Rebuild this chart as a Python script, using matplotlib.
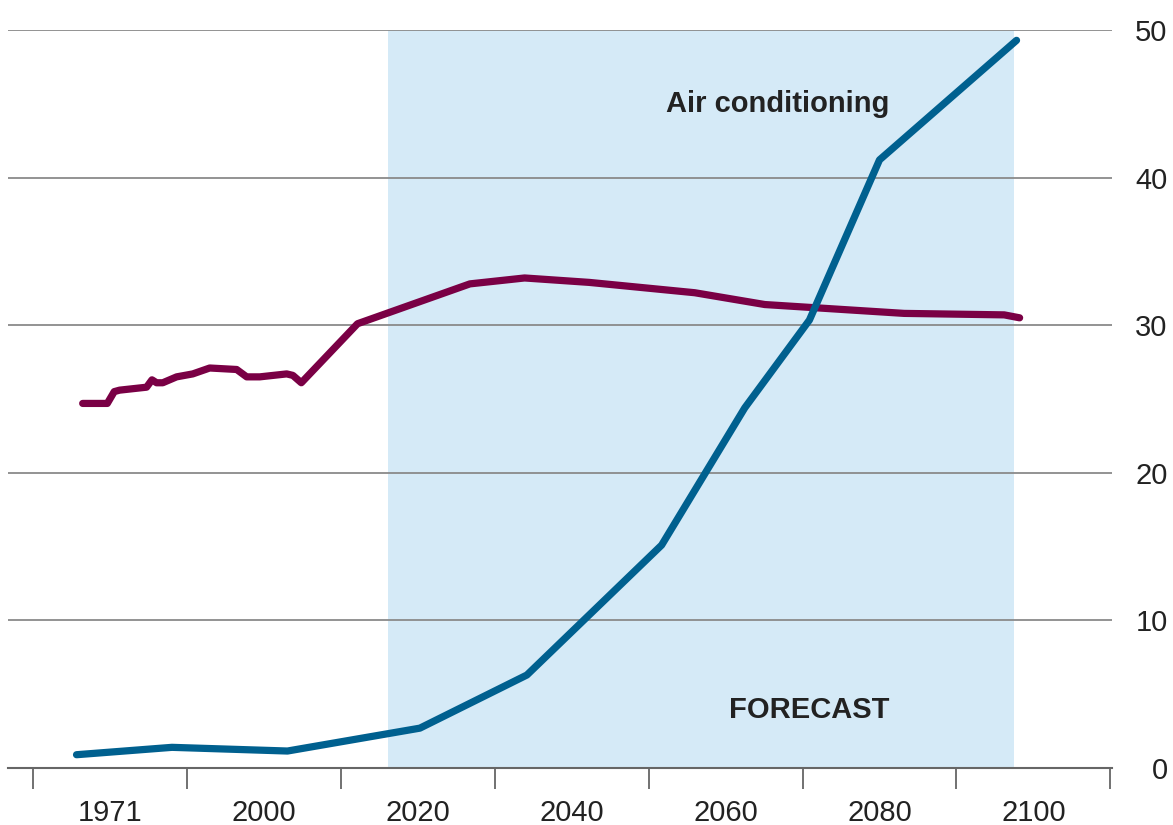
import matplotlib.pyplot as plt

# --- Data ---
heating_years = [1976.5, 1979.7, 1980.6, 1981.3, 1984.8, 1985.5, 1986.1, 1986.9,
                 1988.7, 1990.8, 1993.0, 1996.5, 1997.8, 1999.5, 2003.0, 2003.8,
                 2004.9, 2012.2, 2026.8, 2033.9, 2042.3, 2056.0, 2065.1, 2083.2,
                 2096.2, 2098.2]
heating_vals = [24.7, 24.7, 25.5, 25.6, 25.8, 26.3, 26.1, 26.1,
                26.5, 26.7, 27.1, 27.0, 26.5, 26.5, 26.7, 26.6,
                26.1, 30.1, 32.8, 33.2, 32.9, 32.2, 31.4, 30.8,
                30.7, 30.5]

ac_years = [1975.7, 1988.1, 2003.1, 2020.3, 2034.2, 2051.7, 2062.5, 2070.9, 2080.0, 2097.8]
ac_vals = [0.9, 1.4, 1.15, 2.7, 6.3, 15.1, 24.4, 30.35, 41.2, 49.3]

forecast_span = (2016.1, 2097.5)

tick_edges = [1970, 1990, 2010, 2030, 2050, 2070, 2090, 2110]
label_pos = [1980, 2000, 2020, 2040, 2060, 2080, 2100]
label_text = ["1971", "2000", "2020", "2040", "2060", "2080", "2100"]
y_ticks = [0, 10, 20, 30, 40, 50]

plt.rcParams['font.family'] = ['Liberation Sans', 'DejaVu Sans']

fig = plt.figure(figsize=(11.73, 8.25), dpi=100)
ax = fig.add_axes([8 / 1173, 1 - 768 / 825, (1112 - 8) / 1173, (768 - 30) / 825])

# forecast shading
ax.axvspan(forecast_span[0], forecast_span[1], ymin=0, ymax=1, color="#d5eaf7", lw=0, zorder=0)

# gridlines
for v in y_ticks[1:]:
    ax.axhline(v, color="#8a8a8a", lw=1.3, zorder=1)

ax.plot(heating_years, heating_vals, color="#7a0045", lw=5.2, solid_capstyle="round",
        solid_joinstyle="round", zorder=3, clip_on=False)
ax.plot(ac_years, ac_vals, color="#00608f", lw=5.2, solid_capstyle="round",
        solid_joinstyle="round", zorder=3, clip_on=False)

ax.text(2081.3, 45, "Air conditioning", ha="right", va="center", fontsize=21,
        color="#222222", fontweight="bold")
ax.text(2081.3, 3.9, "FORECAST", ha="right", va="center", fontsize=21,
        color="#222222", fontweight="bold")

ax.set_xlim(1966.8, 2110.2)
ax.set_ylim(0, 50)

for s in ["top", "left", "right"]:
    ax.spines[s].set_visible(False)
ax.spines["bottom"].set_color("#666666")
ax.spines["bottom"].set_linewidth(1.5)

ax.set_xticks(tick_edges)
ax.set_xticklabels([])
ax.tick_params(axis="x", which="major", length=15, width=1.3, color="#666666")
ax.set_xticks(label_pos, minor=True)
ax.set_xticklabels(label_text, minor=True)
ax.tick_params(axis="x", which="minor", length=0, pad=22, labelsize=21, labelcolor="#222222")

ax.yaxis.tick_right()
ax.set_yticks(y_ticks)
ax.set_yticklabels([str(v) for v in y_ticks])
ax.tick_params(axis="y", length=0, pad=40, labelsize=21, labelcolor="#222222")
for lbl in ax.get_yticklabels():
    lbl.set_horizontalalignment("right")

fig.savefig("out.png", dpi=100)
